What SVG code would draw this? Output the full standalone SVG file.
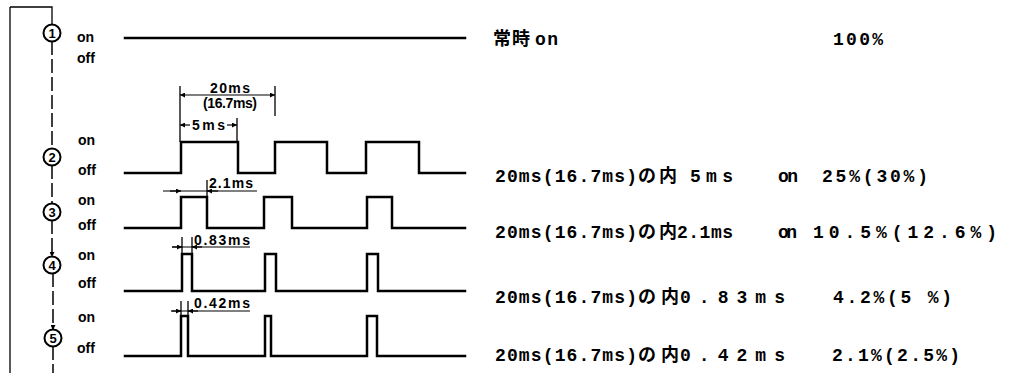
<svg xmlns="http://www.w3.org/2000/svg" width="1010" height="373" viewBox="0 0 1010 373">
<style>
.wave{fill:none;stroke:#000;stroke-width:2.5;stroke-linejoin:miter;stroke-linecap:square}
.dim{fill:none;stroke:#000;stroke-width:1.2}
.ext{fill:none;stroke:#000;stroke-width:1.3}
.chain{fill:none;stroke:#000;stroke-width:1.5;stroke-dasharray:14 4}
.circ{fill:#fff;stroke:#000;stroke-width:2}
.num{font-family:"Liberation Sans",sans-serif;font-size:13px;font-weight:bold;text-anchor:middle}
.lbl{font-family:"Liberation Sans",sans-serif;font-size:14px;font-weight:bold}
.dt{font-family:"Liberation Sans",sans-serif;font-size:14px;font-weight:bold}
.mono{font-family:"Liberation Mono","Noto Sans CJK JP",monospace;font-size:18px;font-weight:bold}
.cjk{font-family:"Noto Sans CJK JP",sans-serif;font-size:18px;font-weight:bold}
</style>
<defs>
<marker id="ah" viewBox="0 0 10 10" refX="10" refY="5" markerWidth="7" markerHeight="5" markerUnits="userSpaceOnUse" orient="auto-start-reverse">
<path d="M0,0 L10,5 L0,10 z" fill="#000"/>
</marker>
</defs>
<rect width="1010" height="373" fill="#fff"/>

<g id="connectors">
<path class="ext" d="M10,7 V373 M10,7 H52 V25"/>
<path class="chain" d="M52,41 V149"/>
<path class="chain" d="M52,165 V204"/>
<path class="chain" d="M52,220 V257" marker-end="url(#ah)"/>
<path class="chain" d="M53,273 V330" marker-end="url(#ah)"/>
<path class="chain" d="M53,346 V373"/>
</g>

<g id="row1">
<circle class="circ" cx="52" cy="33" r="8.5"/>
<text class="num" x="52" y="37.5">1</text>
<text class="lbl" x="77" y="42">on</text>
<text class="lbl" x="77" y="63">off</text>
<path class="wave" d="M125,38 H465"/>
<text class="cjk" x="493" y="45" textLength="37">常時</text>
<text class="mono" x="535" y="45" textLength="23">on</text>
<text class="mono" x="833" y="45" textLength="50">100%</text>
</g>

<g id="row2">
<circle class="circ" cx="52" cy="157" r="8.5"/>
<text class="num" x="52" y="161.5">2</text>
<text class="lbl" x="78" y="145">on</text>
<text class="lbl" x="78" y="175">off</text>
<path class="wave" d="M125,173 H181 V142 H238 V173 H275 V142 H327 V173 H366 V142 H419 V173 H465"/>
<text class="mono" x="495" y="182" textLength="142">20ms(16.7ms)</text>
<text class="cjk" x="638" y="182" textLength="39">の内</text>
<text class="mono" x="690" y="182" textLength="43">5ms</text>
<text class="mono" x="778" y="182" textLength="20">on</text>
<text class="mono" x="822" y="182" textLength="106">25%(30%)</text>
</g>

<g id="row3">
<circle class="circ" cx="52" cy="212" r="8.5"/>
<text class="num" x="52" y="216.5">3</text>
<text class="lbl" x="78" y="205">on</text>
<text class="lbl" x="78" y="230">off</text>
<path class="wave" d="M125,228 H181 V197 H207 V228 H264 V197 H292 V228 H367 V197 H392 V228 H465"/>
<text class="mono" x="495" y="238" textLength="142">20ms(16.7ms)</text>
<text class="cjk" x="638" y="238" textLength="39">の内</text>
<text class="mono" x="677" y="238" textLength="56">2.1ms</text>
<text class="mono" x="778" y="238" textLength="19">on</text>
<text class="mono" x="813" y="238" textLength="184">10.5%(12.6%)</text>
</g>

<g id="row4">
<circle class="circ" cx="52" cy="265" r="8.5"/>
<text class="num" x="52" y="269.5">4</text>
<text class="lbl" x="78" y="260">on</text>
<text class="lbl" x="78" y="288">off</text>
<path class="wave" d="M125,291 H182 V254 H192 V291 H265 V254 H276 V291 H367 V254 H378 V291 H465"/>
<text class="mono" x="495" y="303" textLength="142">20ms(16.7ms)</text>
<text class="cjk" x="638" y="303" textLength="41">の内</text>
<text class="mono" x="680" y="303" textLength="105">0.83ms</text>
<text class="mono" x="833" y="303" textLength="119">4.2%(5 %)</text>
</g>

<g id="row5">
<circle class="circ" cx="53" cy="338" r="8.5"/>
<text class="num" x="53" y="342.5">5</text>
<text class="lbl" x="78" y="322">on</text>
<text class="lbl" x="77" y="353">off</text>
<path class="wave" d="M125,356 H181 V316 H188 V356 H265 V316 H271 V356 H367 V316 H377 V356 H465"/>
<text class="mono" x="495" y="361" textLength="142">20ms(16.7ms)</text>
<text class="cjk" x="638" y="361" textLength="41">の内</text>
<text class="mono" x="680" y="361" textLength="105">0.42ms</text>
<text class="mono" x="832" y="361" textLength="128">2.1%(2.5%)</text>
</g>

<g id="dimensions">
<path class="ext" d="M180,86 V142 M275,86 V116 M237,118 V142"/>
<path class="dim" d="M180,95 H275" marker-start="url(#ah)" marker-end="url(#ah)"/>
<text class="dt" x="210" y="93" textLength="40">20ms</text>
<text class="dt" x="203" y="108" textLength="54">(16.7ms)</text>
<path class="dim" d="M190,125 H180" marker-end="url(#ah)"/>
<path class="dim" d="M227,125 H237" marker-end="url(#ah)"/>
<text class="dt" x="192" y="130" textLength="33">5ms</text>

<path class="ext" d="M207,180 V197"/>
<path class="dim" d="M163,191 H257"/>
<path class="dim" d="M170,191 H181" marker-end="url(#ah)"/>
<path class="dim" d="M218,191 H207" marker-end="url(#ah)"/>
<text class="dt" x="209" y="188" textLength="44">2.1ms</text>

<path class="ext" d="M182,237 V254 M192,237 V254"/>
<path class="dim" d="M172,247 H250"/>
<path class="dim" d="M172,247 H182" marker-end="url(#ah)"/>
<path class="dim" d="M202,247 H192" marker-end="url(#ah)"/>
<text class="dt" x="194" y="245" textLength="56">0.83ms</text>

<path class="ext" d="M181,301 V316 M188,301 V316"/>
<path class="dim" d="M172,311 H250"/>
<path class="dim" d="M171,311 H181" marker-end="url(#ah)"/>
<path class="dim" d="M198,311 H188" marker-end="url(#ah)"/>
<text class="dt" x="194" y="308" textLength="56">0.42ms</text>
</g>
</svg>
